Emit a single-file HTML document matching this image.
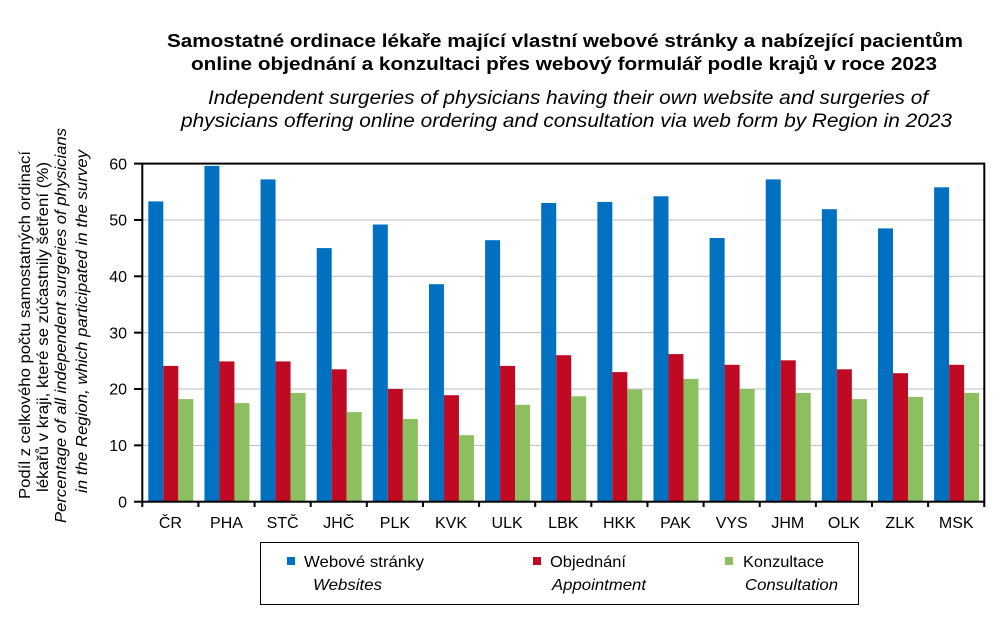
<!DOCTYPE html>
<html><head><meta charset="utf-8"><style>
html,body{margin:0;padding:0;background:#fff;}
svg{display:block;font-family:"Liberation Sans",Arial,sans-serif;}
</style></head><body>
<svg width="1004" height="620" viewBox="0 0 1004 620" xmlns="http://www.w3.org/2000/svg">
<rect width="1004" height="620" fill="#fff"/>
<!-- Titles -->
<g font-weight="bold" font-size="18" fill="#000">
<text x="167" y="47" textLength="796" lengthAdjust="spacingAndGlyphs">Samostatné ordinace lékaře mající vlastní webové stránky a nabízející pacientům</text>
<text x="191" y="70" textLength="746" lengthAdjust="spacingAndGlyphs">online objednání a konzultaci přes webový formulář podle krajů v roce 2023</text>
</g>
<g font-style="italic" font-size="19" fill="#000">
<text x="208" y="104" textLength="720" lengthAdjust="spacingAndGlyphs">Independent surgeries of physicians having their own website and surgeries of</text>
<text x="181" y="127" textLength="771" lengthAdjust="spacingAndGlyphs">physicians offering online ordering and consultation via web form by Region in 2023</text>
</g>
<!-- Y axis title -->
<g font-size="16" fill="#000">
<text transform="translate(30,499) rotate(-90)" textLength="348" lengthAdjust="spacingAndGlyphs">Podíl z celkového počtu samostatných ordinací</text>
<text transform="translate(48,492) rotate(-90)" textLength="330" lengthAdjust="spacingAndGlyphs">lékařů v kraji, které se zúčastnily šetření (%)</text>
<text transform="translate(66,523) rotate(-90)" font-style="italic" textLength="395" lengthAdjust="spacingAndGlyphs">Percentage of all independent surgeries of physicians</text>
<text transform="translate(87,493) rotate(-90)" font-style="italic" textLength="343" lengthAdjust="spacingAndGlyphs">in the Region, which participated in the survey</text>
</g>
<!-- gridlines -->
<g stroke="#bdbdbd" stroke-width="1">
<line x1="142.3" x2="984.3" y1="445.35" y2="445.35"/>
<line x1="142.3" x2="984.3" y1="389" y2="389"/>
<line x1="142.3" x2="984.3" y1="332.65" y2="332.65"/>
<line x1="142.3" x2="984.3" y1="276.3" y2="276.3"/>
<line x1="142.3" x2="984.3" y1="219.95" y2="219.95"/>
</g>
<!-- bars -->
<g>
<g transform="translate(142.3,0)"><rect x="6" y="201.4" width="15" height="300.3" fill="#0070C0"/><rect x="21" y="365.9" width="15" height="135.8" fill="#C00A23"/><rect x="36" y="399.1" width="15" height="102.6" fill="#8BBF5F"/></g>
<g transform="translate(198.43,0)"><rect x="6" y="165.9" width="15" height="335.8" fill="#0070C0"/><rect x="21" y="361.4" width="15" height="140.3" fill="#C00A23"/><rect x="36" y="403.1" width="15" height="98.6" fill="#8BBF5F"/></g>
<g transform="translate(254.56,0)"><rect x="6" y="179.4" width="15" height="322.3" fill="#0070C0"/><rect x="21" y="361.4" width="15" height="140.3" fill="#C00A23"/><rect x="36" y="392.9" width="15" height="108.8" fill="#8BBF5F"/></g>
<g transform="translate(310.69,0)"><rect x="6" y="248.1" width="15" height="253.6" fill="#0070C0"/><rect x="21" y="369.3" width="15" height="132.4" fill="#C00A23"/><rect x="36" y="412.1" width="15" height="89.6" fill="#8BBF5F"/></g>
<g transform="translate(366.82,0)"><rect x="6" y="224.5" width="15" height="277.2" fill="#0070C0"/><rect x="21" y="389" width="15" height="112.7" fill="#C00A23"/><rect x="36" y="418.9" width="15" height="82.8" fill="#8BBF5F"/></g>
<g transform="translate(422.95,0)"><rect x="6" y="284.2" width="15" height="217.5" fill="#0070C0"/><rect x="21" y="395.2" width="15" height="106.5" fill="#C00A23"/><rect x="36" y="435.2" width="15" height="66.5" fill="#8BBF5F"/></g>
<g transform="translate(479.08,0)"><rect x="6" y="240.2" width="15" height="261.5" fill="#0070C0"/><rect x="21" y="365.9" width="15" height="135.8" fill="#C00A23"/><rect x="36" y="404.8" width="15" height="96.9" fill="#8BBF5F"/></g>
<g transform="translate(535.21,0)"><rect x="6" y="203" width="15" height="298.7" fill="#0070C0"/><rect x="21" y="355.2" width="15" height="146.5" fill="#C00A23"/><rect x="36" y="396.3" width="15" height="105.4" fill="#8BBF5F"/></g>
<g transform="translate(591.34,0)"><rect x="6" y="201.9" width="15" height="299.8" fill="#0070C0"/><rect x="21" y="372.1" width="15" height="129.6" fill="#C00A23"/><rect x="36" y="389.6" width="15" height="112.1" fill="#8BBF5F"/></g>
<g transform="translate(647.47,0)"><rect x="6" y="196.3" width="15" height="305.4" fill="#0070C0"/><rect x="21" y="354.1" width="15" height="147.6" fill="#C00A23"/><rect x="36" y="378.9" width="15" height="122.8" fill="#8BBF5F"/></g>
<g transform="translate(703.6,0)"><rect x="6" y="238" width="15" height="263.7" fill="#0070C0"/><rect x="21" y="364.8" width="15" height="136.9" fill="#C00A23"/><rect x="36" y="389" width="15" height="112.7" fill="#8BBF5F"/></g>
<g transform="translate(759.73,0)"><rect x="6" y="179.4" width="15" height="322.3" fill="#0070C0"/><rect x="21" y="360.3" width="15" height="141.4" fill="#C00A23"/><rect x="36" y="392.9" width="15" height="108.8" fill="#8BBF5F"/></g>
<g transform="translate(815.86,0)"><rect x="6" y="209.2" width="15" height="292.5" fill="#0070C0"/><rect x="21" y="369.3" width="15" height="132.4" fill="#C00A23"/><rect x="36" y="399.1" width="15" height="102.6" fill="#8BBF5F"/></g>
<g transform="translate(871.99,0)"><rect x="6" y="228.4" width="15" height="273.3" fill="#0070C0"/><rect x="21" y="373.2" width="15" height="128.5" fill="#C00A23"/><rect x="36" y="396.9" width="15" height="104.8" fill="#8BBF5F"/></g>
<g transform="translate(928.12,0)"><rect x="6" y="187.3" width="15" height="314.4" fill="#0070C0"/><rect x="21" y="364.8" width="15" height="136.9" fill="#C00A23"/><rect x="36" y="392.9" width="15" height="108.8" fill="#8BBF5F"/></g>
</g>
<!-- plot border -->
<rect x="142.3" y="163.6" width="842" height="338.1" fill="none" stroke="#000" stroke-width="2"/>
<!-- y ticks -->
<g stroke="#000" stroke-width="2">
<line x1="134" x2="142.3" y1="501.7" y2="501.7"/>
<line x1="134" x2="142.3" y1="445.35" y2="445.35"/>
<line x1="134" x2="142.3" y1="389" y2="389"/>
<line x1="134" x2="142.3" y1="332.65" y2="332.65"/>
<line x1="134" x2="142.3" y1="276.3" y2="276.3"/>
<line x1="134" x2="142.3" y1="219.95" y2="219.95"/>
<line x1="134" x2="142.3" y1="163.6" y2="163.6"/>
</g>
<!-- x ticks -->
<g stroke="#000" stroke-width="2">
<line x1="142.3" x2="142.3" y1="501.7" y2="507"/>
<line x1="198.43" x2="198.43" y1="501.7" y2="507"/>
<line x1="254.56" x2="254.56" y1="501.7" y2="507"/>
<line x1="310.69" x2="310.69" y1="501.7" y2="507"/>
<line x1="366.82" x2="366.82" y1="501.7" y2="507"/>
<line x1="422.95" x2="422.95" y1="501.7" y2="507"/>
<line x1="479.08" x2="479.08" y1="501.7" y2="507"/>
<line x1="535.21" x2="535.21" y1="501.7" y2="507"/>
<line x1="591.34" x2="591.34" y1="501.7" y2="507"/>
<line x1="647.47" x2="647.47" y1="501.7" y2="507"/>
<line x1="703.6" x2="703.6" y1="501.7" y2="507"/>
<line x1="759.73" x2="759.73" y1="501.7" y2="507"/>
<line x1="815.86" x2="815.86" y1="501.7" y2="507"/>
<line x1="871.99" x2="871.99" y1="501.7" y2="507"/>
<line x1="928.12" x2="928.12" y1="501.7" y2="507"/>
<line x1="984.25" x2="984.25" y1="501.7" y2="507"/>
</g>
<!-- y tick labels -->
<g font-size="16" fill="#000" text-anchor="end">
<text x="127" y="507.5">0</text>
<text x="127" y="451">10</text>
<text x="127" y="394.7">20</text>
<text x="127" y="338.3">30</text>
<text x="127" y="282">40</text>
<text x="127" y="225.6">50</text>
<text x="127" y="169.3">60</text>
</g>
<!-- x labels -->
<g font-size="16" fill="#000" text-anchor="middle">
<text x="170.4" y="528">ČR</text>
<text x="226.5" y="528">PHA</text>
<text x="282.6" y="528">STČ</text>
<text x="338.8" y="528">JHČ</text>
<text x="394.9" y="528">PLK</text>
<text x="451" y="528">KVK</text>
<text x="507.1" y="528">ULK</text>
<text x="563.3" y="528">LBK</text>
<text x="619.4" y="528">HKK</text>
<text x="675.5" y="528">PAK</text>
<text x="731.7" y="528">VYS</text>
<text x="787.8" y="528">JHM</text>
<text x="843.9" y="528">OLK</text>
<text x="900.1" y="528">ZLK</text>
<text x="956.2" y="528">MSK</text>
</g>
<!-- legend -->
<rect x="260.5" y="542.5" width="598" height="62" fill="none" stroke="#000" stroke-width="1"/>
<rect x="287" y="557" width="8" height="8" fill="#0070C0"/>
<rect x="533" y="557" width="8" height="8" fill="#C00A23"/>
<rect x="725" y="557" width="8" height="8" fill="#8BBF5F"/>
<g font-size="16" fill="#000">
<text x="304" y="567" textLength="120" lengthAdjust="spacingAndGlyphs">Webové stránky</text>
<text x="550" y="567" textLength="76" lengthAdjust="spacingAndGlyphs">Objednání</text>
<text x="743" y="567" textLength="81" lengthAdjust="spacingAndGlyphs">Konzultace</text>
</g>
<g font-size="16" fill="#000" font-style="italic">
<text x="313" y="590" textLength="69" lengthAdjust="spacingAndGlyphs">Websites</text>
<text x="552" y="590" textLength="94" lengthAdjust="spacingAndGlyphs">Appointment</text>
<text x="745" y="590" textLength="93" lengthAdjust="spacingAndGlyphs">Consultation</text>
</g>
</svg>
</body></html>
